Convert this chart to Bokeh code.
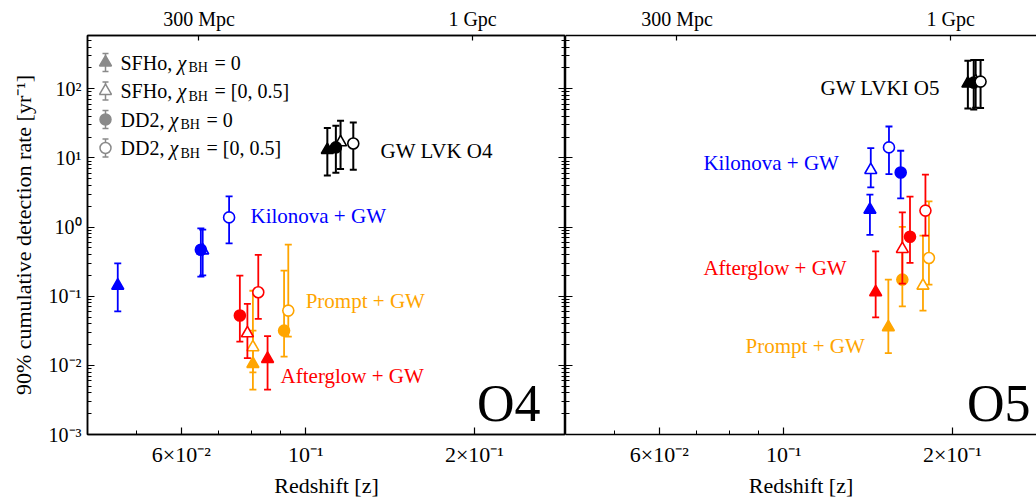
import numpy as np
from bokeh.embed import file_html
from bokeh.layouts import row
from bokeh.models import ColumnDataSource, FixedTicker, Label, LogAxis, Range1d
from bokeh.plotting import figure
from bokeh.resources import INLINE

FONT = "Liberation Serif"

# Model order in every array below:
#   SFHo chi_BH = 0, SFHo chi_BH = [0, 0.5], DD2 chi_BH = 0, DD2 chi_BH = [0, 0.5]
MARKERS = ["triangle", "triangle", "circle", "circle"]
FILLED = [True, False, True, False]

# ---- O4 -------------------------------------------------------------------
o4_kn_z = [0.0462, 0.0655, 0.0650, 0.0730]
o4_kn_rate = [0.142, 0.46, 0.471, 1.38]
o4_kn_lo = [0.0605, 0.20, 0.192, 0.58]
o4_kn_hi = [0.298, 0.92, 0.957, 2.78]

o4_ag_z = [0.0855, 0.0787, 0.0763, 0.0823]
o4_ag_rate = [0.0124, 0.0291, 0.0525, 0.114]
o4_ag_lo = [0.00447, 0.0127, 0.0221, 0.047]
o4_ag_hi = [0.0264, 0.0775, 0.199, 0.395]

o4_pr_z = [0.0805, 0.0805, 0.0915, 0.0931]
o4_pr_rate = [0.0105, 0.0183, 0.0318, 0.0619]
o4_pr_lo = [0.00447, 0.0079, 0.0134, 0.026]
o4_pr_hi = [0.0318, 0.12, 0.234, 0.557]

o4_gw_z = [0.1093, 0.1154, 0.1132, 0.1216]
o4_gw_rate = [13.0, 16.8, 14.2, 16.2]
o4_gw_lo = [5.59, 6.92, 6.11, 6.76]
o4_gw_hi = [27.0, 34.5, 29.2, 32.6]

# ---- O5 -------------------------------------------------------------------
o5_kn_z = [0.1425, 0.1430, 0.1617, 0.1541]
o5_kn_rate = [1.78, 6.68, 6.17, 14.2]
o5_kn_lo = [0.77, 3.75, 2.6, 5.85]
o5_kn_hi = [2.94, 13.9, 12.7, 28.5]

o5_ag_z = [0.1459, 0.1628, 0.1680, 0.1790]
o5_ag_rate = [0.114, 0.482, 0.726, 1.73]
o5_ag_lo = [0.0495, 0.152, 0.303, 0.751]
o5_ag_hi = [0.446, 1.63, 2.75, 5.72]

o5_pr_z = [0.1537, 0.1772, 0.1628, 0.1816]
o5_pr_rate = [0.0356, 0.142, 0.174, 0.357]
o5_pr_lo = [0.015, 0.062, 0.0714, 0.147]
o5_pr_hi = [0.174, 0.75, 1.01, 2.35]

o5_gw_z = [0.2131, 0.2200, 0.2183, 0.2245]
o5_gw_rate = [119.0, 128.0, 123.0, 127.0]
o5_gw_lo = [51.9, 53.0, 50.2, 52.6]
o5_gw_hi = [254.0, 262.0, 260.0, 262.0]

# Tick labels
y_ticks = [1e-3, 1e-2, 1e-1, 1e0, 1e1, 1e2]
y_tick_labels = ["10⁻³", "10⁻²", "10⁻¹", "10⁰", "10¹", "10²"]
x_ticks = [0.06, 0.1, 0.2]
x_tick_labels = ["6×10⁻²", "10⁻¹", "2×10⁻¹"]
x_minor = [0.05, 0.07, 0.08, 0.09, 0.3]
dist_ticks = [0.0645, 0.1985]          # redshift of 300 Mpc and 1 Gpc
dist_tick_labels = ["300 Mpc", "1 Gpc"]

KN, AG, PR, GW = "#0000ff", "#ff0000", "#ffa500", "#000000"
LEGEND_GREY = "#8a8a8a"

X_MIN, X_MAX_L, X_MAX_R = 0.0408, 0.2908, 0.2825
Y_MIN, Y_MAX = 1e-3, 590.0
FRAME_H = 399
FRAME_W_L, FRAME_W_R = 478, 471

y_minor = [k * 10.0 ** e for e in range(-3, 3) for k in range(2, 10) if k * 10.0 ** e < Y_MAX]


def frame_point(fx, fy, x_max=X_MAX_L, frame_w=FRAME_W_L):
    """Pixel offset from the frame's top-left corner -> data coordinates."""
    lx0, lx1 = np.log10(X_MIN), np.log10(x_max)
    ly0, ly1 = np.log10(Y_MIN), np.log10(Y_MAX)
    return (10 ** (lx0 + fx / frame_w * (lx1 - lx0)),
            10 ** (ly1 - fy / FRAME_H * (ly1 - ly0)))


def style_axis(ax, labels=True, label_size="20px"):
    ax.axis_line_width = 1.5
    ax.axis_line_color = "black"
    ax.major_tick_in = 7
    ax.major_tick_out = 0
    ax.minor_tick_in = 4
    ax.minor_tick_out = 0
    ax.major_tick_line_width = 1.2
    ax.minor_tick_line_width = 1.0
    ax.major_label_text_font = FONT
    ax.major_label_text_font_size = label_size if labels else "0px"
    ax.major_label_text_color = "black"
    ax.axis_label_text_font = FONT
    ax.axis_label_text_font_size = "22px"
    ax.axis_label_text_font_style = "normal"
    ax.axis_label_text_color = "black"


def make_panel(x_max, frame_w, border_left, y_labels):
    p = figure(x_axis_type="log", y_axis_type="log",
               x_range=Range1d(X_MIN, x_max), y_range=Range1d(Y_MIN, Y_MAX),
               frame_width=frame_w, frame_height=FRAME_H,
               min_border_left=border_left, min_border_right=0,
               min_border_top=35, min_border_bottom=63,
               toolbar_location=None, output_backend="svg",
               background_fill_color="white", border_fill_color="white")
    p.xgrid.visible = False
    p.ygrid.visible = False

    # bottom redshift axis
    xa = p.xaxis[0]
    xa.ticker = FixedTicker(ticks=x_ticks, minor_ticks=x_minor)
    xa.major_label_overrides = dict(zip(x_ticks, x_tick_labels))
    xa.axis_label = "Redshift [z]"
    style_axis(xa, label_size="22px")
    xa.major_label_standoff = 7
    xa.axis_label_standoff = 3

    # left rate axis
    ya = p.yaxis[0]
    ya.ticker = FixedTicker(ticks=y_ticks, minor_ticks=y_minor)
    if y_labels:
        ya.major_label_overrides = dict(zip(y_ticks, y_tick_labels))
        ya.axis_label = "90% cumulative detection rate [yr⁻¹]"
        style_axis(ya)
        ya.major_label_standoff = 6
        ya.axis_label_standoff = 10
    else:
        ya.major_label_overrides = {t: "" for t in y_ticks}
        style_axis(ya, labels=False)
        ya.major_label_standoff = 0

    # top luminosity-distance axis
    top = LogAxis(ticker=FixedTicker(ticks=dist_ticks, minor_ticks=[]),
                  major_label_overrides=dict(zip(dist_ticks, dist_tick_labels)))
    style_axis(top)
    top.major_tick_in = 5
    top.major_label_standoff = 6
    p.add_layout(top, "above")
    return p


def draw_channel(p, z, rate, lo, hi, color, width=1.8):
    p.segment(x0=z, y0=lo, x1=z, y1=hi, line_color=color, line_width=width)
    p.scatter(x=list(z) + list(z), y=list(lo) + list(hi), marker="dash",
              size=7, line_color=color, line_width=width)
    src = ColumnDataSource(dict(
        z=z, rate=rate, marker=MARKERS,
        size=[12 if m == "triangle" else 11 for m in MARKERS],
        fill=[color if f else "white" for f in FILLED]))
    p.scatter(x="z", y="rate", source=src, marker="marker", size="size",
              fill_color="fill", line_color=color, line_width=1.6)


def add_text(p, x, y, text, color, size="21px", align="left", baseline="middle",
             style="normal", x_offset=0, y_offset=0):
    p.add_layout(Label(x=x, y=y, text=text, text_color=color, text_font=FONT,
                       text_font_size=size, text_align=align, text_baseline=baseline,
                       text_font_style=style, x_offset=x_offset, y_offset=y_offset))


# ---------------------------------------------------------------- O4 panel
p4 = make_panel(X_MAX_L, FRAME_W_L, 87, True)
p4.outline_line_color = "black"
p4.outline_line_width = 1.5
right_ax = LogAxis(ticker=FixedTicker(ticks=y_ticks, minor_ticks=y_minor),
                   major_label_overrides={t: "" for t in y_ticks})
style_axis(right_ax, labels=False)
right_ax.major_label_standoff = 0
p4.add_layout(right_ax, "right")

draw_channel(p4, o4_kn_z, o4_kn_rate, o4_kn_lo, o4_kn_hi, KN)
draw_channel(p4, o4_pr_z, o4_pr_rate, o4_pr_lo, o4_pr_hi, PR)
draw_channel(p4, o4_ag_z, o4_ag_rate, o4_ag_lo, o4_ag_hi, AG)
draw_channel(p4, o4_gw_z, o4_gw_rate, o4_gw_lo, o4_gw_hi, GW, width=2.0)

add_text(p4, 0.136, 12.8, "GW LVK O4", GW)
add_text(p4, 0.0797, 1.47, "Kilonova + GW", KN)
add_text(p4, 0.100, 0.0867, "Prompt + GW", PR)
add_text(p4, 0.0902, 0.00713, "Afterglow + GW", AG)
add_text(p4, 0.2624, 0.00281, "O4", "black", size="52px", align="right",
         baseline="alphabetic")

# legend (grey symbols with error bars)
legend_rows = [("SFHo, ", "0"), ("SFHo, ", "[0, 0.5]"), ("DD2, ", "0"), ("DD2, ", "[0, 0.5]")]
row_fy = [27, 55.5, 84, 112.5]
for (eos, spin), fy, mk, filled in zip(legend_rows, row_fy, MARKERS, FILLED):
    mx, my = frame_point(18, fy)
    _, ylo = frame_point(18, fy + 9)
    _, yhi = frame_point(18, fy - 9)
    p4.segment(x0=[mx], y0=[ylo], x1=[mx], y1=[yhi], line_color=LEGEND_GREY, line_width=1.5)
    p4.scatter(x=[mx, mx], y=[ylo, yhi], marker="dash", size=6,
               line_color=LEGEND_GREY, line_width=1.5)
    p4.scatter(x=[mx], y=[my], marker=mk, size=12 if mk == "triangle" else 11,
               fill_color=LEGEND_GREY if filled else "white",
               line_color=LEGEND_GREY, line_width=1.5)
    tx, ty = frame_point(33, fy)
    chi_off = 57 if eos.startswith("SFHo") else 49
    add_text(p4, tx, ty, eos, "black", size="20px")
    add_text(p4, tx, ty, "χ", "black", size="20px", style="italic", x_offset=chi_off)
    add_text(p4, tx, ty, "BH", "black", size="14px", x_offset=chi_off + 11, y_offset=-5)
    add_text(p4, tx, ty, "= " + spin, "black", size="20px", x_offset=chi_off + 37)

# ---------------------------------------------------------------- O5 panel
p5 = make_panel(X_MAX_R, FRAME_W_R, 0, False)
p5.outline_line_color = None

draw_channel(p5, o5_kn_z, o5_kn_rate, o5_kn_lo, o5_kn_hi, KN)
draw_channel(p5, o5_pr_z, o5_pr_rate, o5_pr_lo, o5_pr_hi, PR)
draw_channel(p5, o5_ag_z, o5_ag_rate, o5_ag_lo, o5_ag_hi, AG)
draw_channel(p5, o5_gw_z, o5_gw_rate, o5_gw_lo, o5_gw_hi, GW, width=2.0)

add_text(p5, 0.1163, 101.0, "GW LVKI O5", GW)
add_text(p5, 0.0719, 8.59, "Kilonova + GW", KN)
add_text(p5, 0.0719, 0.252, "Afterglow + GW", AG)
add_text(p5, 0.0855, 0.01875, "Prompt + GW", PR)
add_text(p5, 0.2757, 0.00281, "O5", "black", size="52px", align="right",
         baseline="alphabetic")

layout = row(p4, p5)
open("out.html", "w").write(file_html(layout, INLINE))
